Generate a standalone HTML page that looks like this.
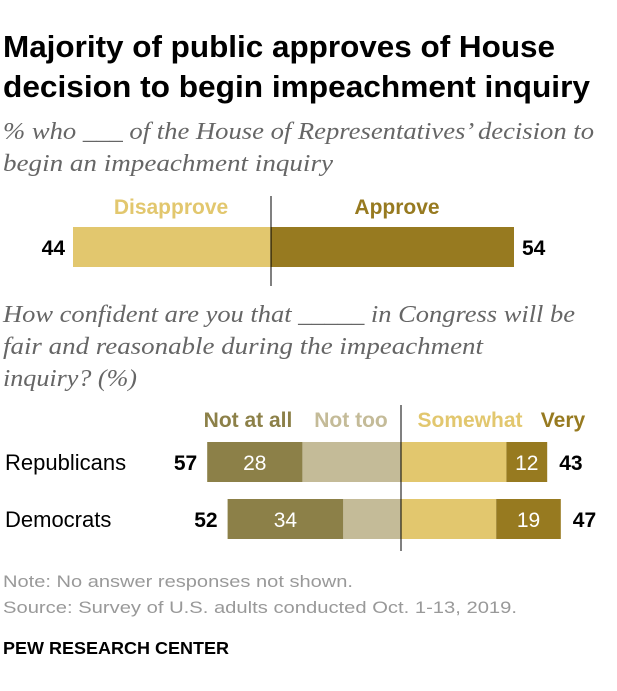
<!DOCTYPE html>
<html><head><meta charset="utf-8"><style>
body{margin:0;background:#fff;width:617px;height:691px;overflow:hidden;font-family:"Liberation Sans",sans-serif}
svg{display:block}
</style></head><body>
<svg width="617" height="691">
<text x="3" y="57" font-size="31" font-weight="bold" fill="#000" textLength="552" lengthAdjust="spacingAndGlyphs">Majority of public approves of House</text>
<text x="3" y="97" font-size="31" font-weight="bold" fill="#000" textLength="587" lengthAdjust="spacingAndGlyphs">decision to begin impeachment inquiry</text>
<g font-family="Liberation Serif" font-style="italic" font-size="24" fill="#666" lengthAdjust="spacingAndGlyphs">
<text x="3" y="139" textLength="591" lengthAdjust="spacingAndGlyphs">% who ___ of the House of Representatives’ decision to</text>
<text x="3" y="171" textLength="330" lengthAdjust="spacingAndGlyphs">begin an impeachment inquiry</text>
<text x="3" y="322" textLength="572" lengthAdjust="spacingAndGlyphs">How confident are you that _____ in Congress will be</text>
<text x="3" y="354" textLength="480" lengthAdjust="spacingAndGlyphs">fair and reasonable during the impeachment</text>
<text x="3" y="386" textLength="134" lengthAdjust="spacingAndGlyphs">inquiry? (%)</text>
</g>
<g id="top"></g>
<g id="bottom"></g>
<text x="3" y="587" font-size="17" fill="#999" textLength="350" lengthAdjust="spacingAndGlyphs">Note: No answer responses not shown.</text>
<text x="3" y="613" font-size="17" fill="#999" textLength="514" lengthAdjust="spacingAndGlyphs">Source: Survey of U.S. adults conducted Oct. 1-13, 2019.</text>
<text x="3" y="654" font-size="17.5" font-weight="bold" fill="#000" textLength="226" lengthAdjust="spacingAndGlyphs">PEW RESEARCH CENTER</text>
</svg>
<script>
const topCats=["Disapprove","Approve"];
const topVals=[44,54];
const groups=["Republicans","Democrats"];
const notAtAll=[28,34];
const notToo=[29,17];
const somewhat=[31,28];
const very=[12,19];
const netNo=[57,52];
const netYes=[43,47];
const NS="http://www.w3.org/2000/svg";
function mk(tag,attrs,parent,txt){const e=document.createElementNS(NS,tag);for(const k in attrs)e.setAttribute(k,attrs[k]);if(txt!==undefined)e.textContent=txt;parent.appendChild(e);return e;}
const C1="#e2c76e",C2="#977a20",C3="#8c8048",C4="#c4bb98";
const tg=document.getElementById('top');
const tx0=271,ts=4.5;
const tX=v=>v*ts;
let r=mk('rect',{x:tx0-tX(topVals[0]),y:227,width:tX(topVals[0]),height:40,fill:C1},tg);

r=mk('rect',{x:tx0,y:227,width:tX(topVals[1]),height:40,fill:C2},tg);

let t=mk('text',{x:tx0-tX(topVals[0])-8,y:255,'text-anchor':'end','font-size':21,'font-weight':'bold'},tg,topVals[0]);

t=mk('text',{x:tx0+tX(topVals[1])+8,y:255,'font-size':21,'font-weight':'bold'},tg,topVals[1]);

t=mk('text',{x:171,y:214,'text-anchor':'middle','font-size':21,'font-weight':'bold',fill:C1},tg,topCats[0]);

t=mk('text',{x:397,y:214,'text-anchor':'middle','font-size':21,'font-weight':'bold',fill:C2},tg,topCats[1]);

let l=mk('line',{x1:tx0,x2:tx0,y1:196,y2:286,stroke:'#000','stroke-width':1},tg);

const bg=document.getElementById('bottom');
const bx0=401,bs=3.4;
const bX=v=>v*bs;
const legs=[["Not at all",248,C3],["Not too",351,C4],["Somewhat",470,C1],["Very",563,C2]];
legs.forEach((g,i)=>{const e=mk('text',{x:g[1],y:427,'text-anchor':'middle','font-size':21,'font-weight':'bold',fill:g[2]},bg,g[0]);

});
groups.forEach((g,i)=>{
 const y=442+i*57,h=40;
 const lab=mk('text',{x:5,y:y+28,'font-size':22},bg,g);
 
 
 const nt=bX(notToo[i]),na=bX(notAtAll[i]),sw=bX(somewhat[i]),vy=bX(very[i]);
 let b=mk('rect',{x:bx0-nt,y:y,width:nt,height:h,fill:C4},bg);
 
 
 b=mk('rect',{x:bx0-nt-na,y:y,width:na,height:h,fill:C3},bg);
 
 
 b=mk('rect',{x:bx0,y:y,width:sw,height:h,fill:C1},bg);
 
 
 b=mk('rect',{x:bx0+sw,y:y,width:vy,height:h,fill:C2},bg);
 
 
 let e=mk('text',{x:bx0-nt-na/2,y:y+28,'text-anchor':'middle','font-size':21,fill:'#fff'},bg,notAtAll[i]);
 
 
 e=mk('text',{x:bx0+sw+vy/2,y:y+28,'text-anchor':'middle','font-size':21,fill:'#fff'},bg,very[i]);
 
 
 e=mk('text',{x:bx0-nt-na-10,y:y+28,'text-anchor':'end','font-size':21,'font-weight':'bold'},bg,netNo[i]);
 
 
 e=mk('text',{x:bx0+sw+vy+12,y:y+28,'font-size':21,'font-weight':'bold'},bg,netYes[i]);
 
 
});
l=mk('line',{x1:bx0,x2:bx0,y1:405,y2:551,stroke:'#000','stroke-width':1},bg);

</script>
</body></html>
